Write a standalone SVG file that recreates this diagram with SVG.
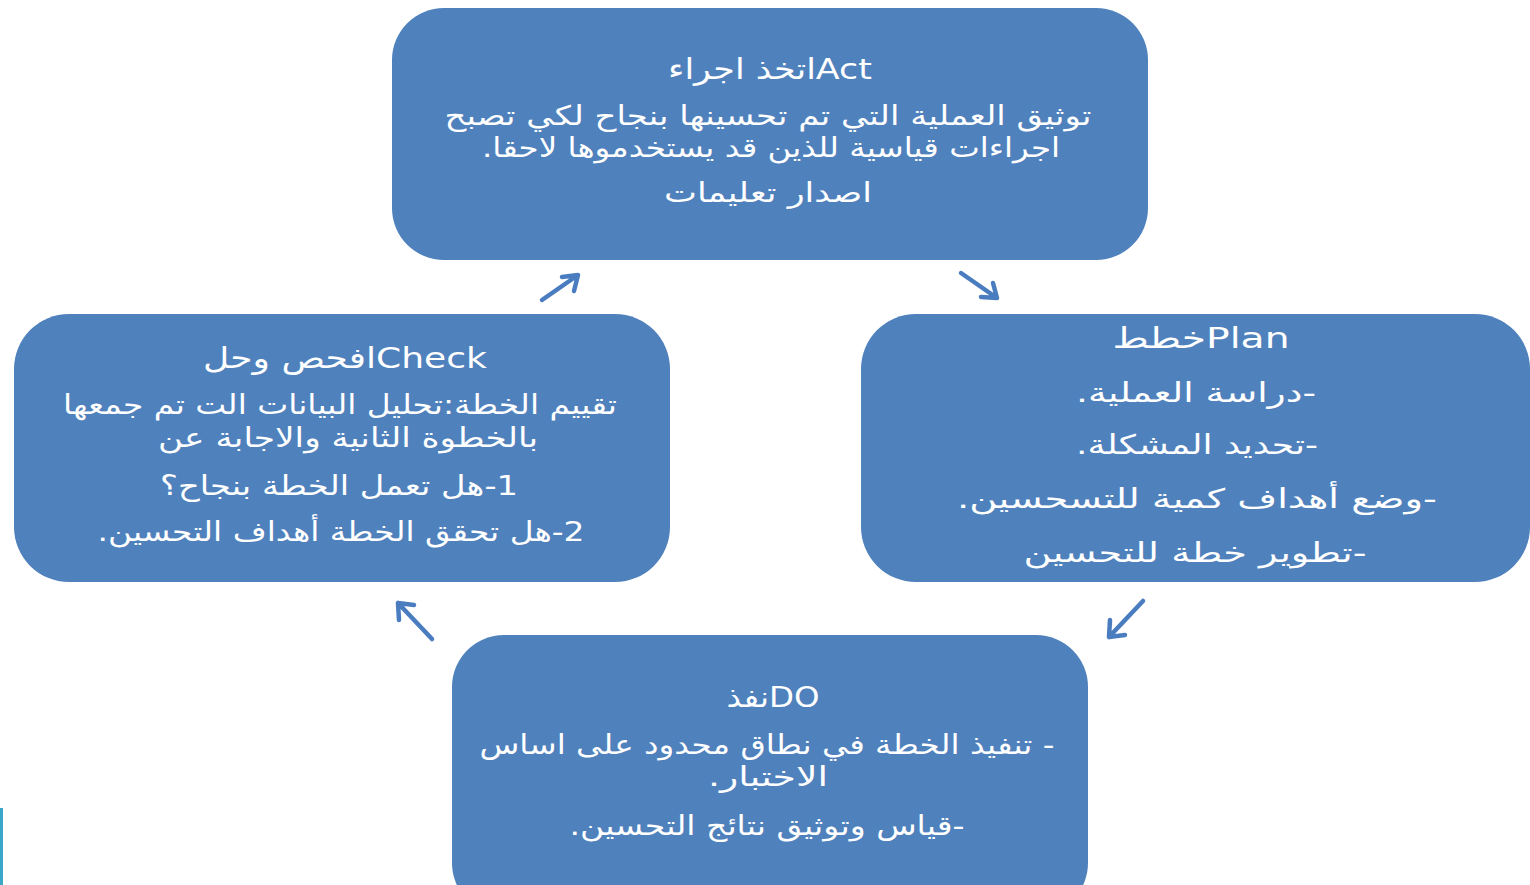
<svg xmlns="http://www.w3.org/2000/svg" width="1530" height="885" viewBox="0 0 1530 885">
<style>
.box{fill:#4F81BD;}
.t{fill:#FFFFFF;font-family:"DejaVu Sans","Liberation Sans",sans-serif;text-anchor:middle;}
.h{font-size:29px;}
.b{font-size:27px;}
.arr{fill:none;stroke:#4A7DBF;stroke-width:4.5;stroke-linecap:round;stroke-linejoin:round;}
</style>
<rect x="0" y="0" width="1530" height="885" fill="#FFFFFF"/>
<rect x="0" y="808" width="3" height="77" fill="#3BA7C9"/>
<g id="act">
<rect class="box" x="392" y="8" width="756" height="252" rx="52"/>
<text class="t h" x="770" y="79" textLength="204" lengthAdjust="spacingAndGlyphs">اتخذ اجراءAct</text>
<text class="t b" x="768" y="125" direction="rtl" textLength="647" lengthAdjust="spacingAndGlyphs">توثيق العملية التي تم تحسينها بنجاح لكي تصبح</text>
<text class="t b" x="771" y="157" direction="rtl" textLength="578" lengthAdjust="spacingAndGlyphs">اجراءات قياسية للذين قد يستخدموها لاحقا.</text>
<text class="t b" x="768" y="202" direction="rtl" textLength="208" lengthAdjust="spacingAndGlyphs">اصدار تعليمات</text>
</g>
<g id="plan">
<rect class="box" x="861" y="314" width="669" height="268" rx="55"/>
<text class="t h" x="1201" y="348" font-size="31" textLength="177" lengthAdjust="spacingAndGlyphs">خططPlan</text>
<text class="t b" x="1196" y="402" direction="rtl" textLength="240" lengthAdjust="spacingAndGlyphs">-دراسة العملية.</text>
<text class="t b" x="1197" y="454" direction="rtl" textLength="242" lengthAdjust="spacingAndGlyphs">-تحديد المشكلة.</text>
<text class="t b" x="1197" y="508" direction="rtl" textLength="480" lengthAdjust="spacingAndGlyphs">-وضع أهداف كمية للتسحسين.</text>
<text class="t b" x="1195" y="562" direction="rtl" textLength="343" lengthAdjust="spacingAndGlyphs">-تطوير خطة للتحسين</text>
</g>
<g id="check">
<rect class="box" x="14" y="314" width="656" height="268" rx="55"/>
<text class="t h" x="345" y="368" textLength="284" lengthAdjust="spacingAndGlyphs">افحص وحلCheck</text>
<text class="t b" x="340" y="414" direction="rtl" textLength="554" lengthAdjust="spacingAndGlyphs">تقييم الخطة:تحليل البيانات الت تم جمعها</text>
<text class="t b" x="348" y="447" direction="rtl" textLength="380" lengthAdjust="spacingAndGlyphs">بالخطوة الثانية والاجابة عن</text>
<text class="t b" x="339" y="495" direction="rtl" textLength="358" lengthAdjust="spacingAndGlyphs">1-هل تعمل الخطة بنجاح؟</text>
<text class="t b" x="341" y="541" direction="rtl" textLength="487" lengthAdjust="spacingAndGlyphs">2-هل تحقق الخطة أهداف التحسين.</text>
</g>
<g id="do">
<rect class="box" x="452" y="635" width="636" height="280" rx="52"/>
<text class="t h" x="773" y="707" textLength="93" lengthAdjust="spacingAndGlyphs">نفذDO</text>
<text class="t b" x="767" y="754" direction="rtl" textLength="575" lengthAdjust="spacingAndGlyphs">- تنفيذ الخطة في نطاق محدود على اساس</text>
<text class="t b" x="768" y="786" direction="rtl" textLength="120" lengthAdjust="spacingAndGlyphs">الاختبار.</text>
<text class="t b" x="767" y="835" direction="rtl" textLength="395" lengthAdjust="spacingAndGlyphs">-قياس وتوثيق نتائج التحسين.</text>
</g>
<g id="connectors">
<path class="arr" d="M542 300 L578 275 M562 277 L578 275 L574 291"/>
<path class="arr" d="M961 273 L997 298 M981 297 L997 298 L993 283"/>
<path class="arr" d="M1143 601 L1109 637 M1110 620 L1109 637 L1125 635"/>
<path class="arr" d="M432 639 L398 603 M414 605 L398 603 L399 620"/>
</g>
</svg>
